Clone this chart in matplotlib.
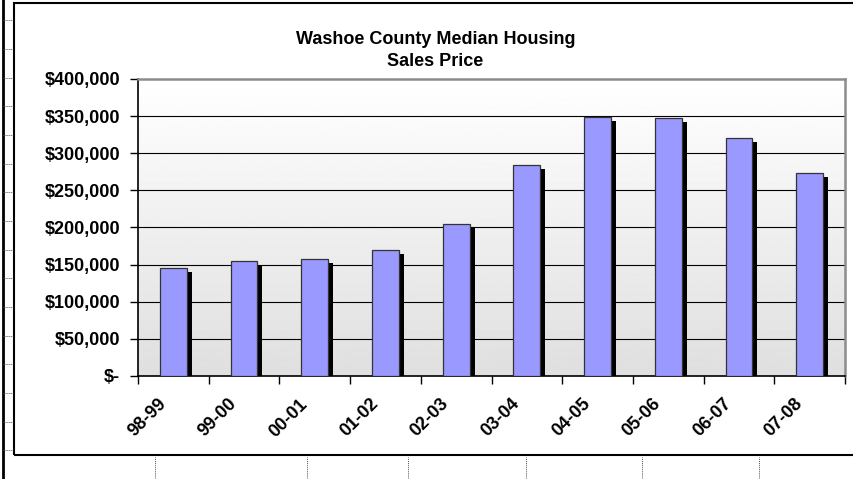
import matplotlib.pyplot as plt
import matplotlib.transforms as mtransforms
from matplotlib.patches import Rectangle
from matplotlib.lines import Line2D
import numpy as np

plt.rcParams['font.family'] = ['Liberation Sans', 'DejaVu Sans']
plt.rcParams['font.weight'] = 'bold'

years = ['98-99', '99-00', '00-01', '01-02', '02-03',
         '03-04', '04-05', '05-06', '06-07', '07-08']
prices = [146000, 155000, 158000, 170000, 205000,
          284000, 349000, 347000, 321000, 274000]
ytick_vals = [0, 50000, 100000, 150000, 200000, 250000, 300000, 350000, 400000]
ytick_labels = ['$-', '$50,000', '$100,000', '$150,000', '$200,000',
                '$250,000', '$300,000', '$350,000', '$400,000']

fig = plt.figure(figsize=(8.54, 4.79), dpi=100)
ax = fig.add_axes([138 / 854, 103 / 479, 707 / 854, 297 / 479])

x = np.arange(len(years))
w = 0.38

# gradient background of the plot area
grad = np.linspace(1.0, 0.875, 256).reshape(-1, 1)
ax.imshow(grad, cmap='gray', vmin=0, vmax=1, aspect='auto',
          extent=[-0.5, len(years) - 0.5, 0, 400000], zorder=0)

# gridlines
for v in ytick_vals[1:-1]:
    ax.axhline(v, color='black', lw=0.8, zorder=1)

# shadow bars then the real bars
shadow = mtransforms.offset_copy(ax.transData, fig=fig, x=5, y=-4, units='dots')
ax.bar(x, prices, width=w, color='black', transform=shadow, zorder=2)
ax.bar(x, prices, width=w, color='#9999ff', edgecolor='#333333', linewidth=0.9, zorder=3)

ax.set_xlim(-0.5, len(years) - 0.5)
ax.set_ylim(0, 400000)
ax.set_yticks(ytick_vals)
ax.set_yticklabels(ytick_labels, fontsize=13, fontweight='bold')
ax.set_xticks(np.arange(len(years) + 1) - 0.5)
ax.set_xticklabels([])
ax.set_xticks(x, minor=True)
ax.set_xticklabels(years, minor=True, rotation=45, ha='right',
                   rotation_mode='anchor', fontsize=13, fontweight='bold')
ax.tick_params(axis='x', which='minor', length=0, pad=14)
ax.tick_params(axis='x', which='major', length=6, width=1, direction='out')
ax.tick_params(axis='y', length=6, width=1, direction='out', pad=7)

shift = mtransforms.ScaledTranslation(-16 / 100, 0, fig.dpi_scale_trans)
for lab in ax.get_xticklabels(minor=True):
    lab.set_transform(lab.get_transform() + shift)

ax.spines['left'].set_color('black')
ax.spines['bottom'].set_color('black')
ax.spines['left'].set_linewidth(1.2)
ax.spines['bottom'].set_linewidth(1.2)
for s in ['top', 'right']:
    ax.spines[s].set_color('#8c8c8c')
    ax.spines[s].set_linewidth(1.8)

fig.text(0.51, 0.895, 'Washoe County Median Housing\nSales Price',
         ha='center', va='center', fontsize=13, fontweight='bold',
         linespacing=1.4)

# chart border and surrounding sheet lines
fig.patches.append(Rectangle((14 / 854, 24 / 479), 845 / 854, 452 / 479,
                             transform=fig.transFigure, fill=False,
                             edgecolor='black', lw=1.5))
fig.lines.append(Line2D([2.5 / 854, 2.5 / 854], [0, 1], transform=fig.transFigure,
                        color='black', lw=2))
for px in [155, 307, 408, 526, 642, 759]:
    fig.lines.append(Line2D([px / 854, px / 854], [0, 22 / 479],
                            transform=fig.transFigure, color='#555555',
                            lw=0.7, ls=(0, (1, 1))))
for py in [20, 49, 78, 106, 135, 164, 192, 221, 250, 278, 307, 336, 364, 393, 422, 450]:
    fig.lines.append(Line2D([3 / 854, 13 / 854], [1 - py / 479, 1 - py / 479],
                            transform=fig.transFigure, color='#555555',
                            lw=0.7, ls=(0, (1, 1))))

fig.savefig('out.png', dpi=100)
